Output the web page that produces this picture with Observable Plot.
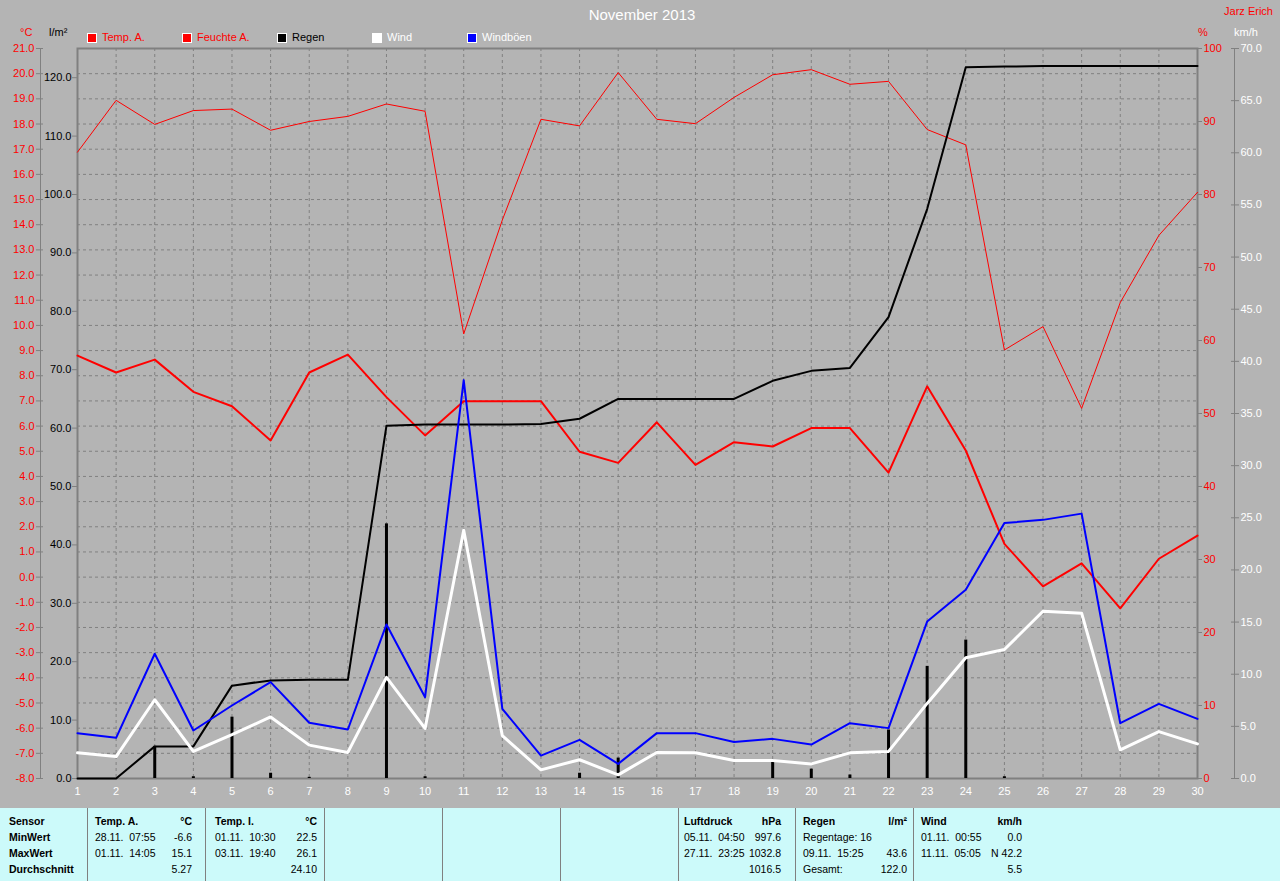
<!DOCTYPE html>
<html><head><meta charset="utf-8">
<script src="https://cdn.jsdelivr.net/npm/d3@7"></script>
<script src="https://cdn.jsdelivr.net/npm/@observablehq/plot@0.6"></script>
<style>
html,body{margin:0;padding:0;background:#b4b4b4;}
#wrap{position:relative;width:1280px;height:881px;overflow:hidden;background:#b4b4b4;font-family:"Liberation Sans",Arial,sans-serif;}
.t{position:absolute;font-size:11px;line-height:13px;white-space:pre;}
#table .t{font-size:10.5px;}
.sq{position:absolute;width:8px;height:8px;border:1px solid #fff;}
#table{position:absolute;left:0;top:808px;width:1280px;height:73px;background:#ccfafa;}
.div{position:absolute;top:0;width:1px;height:73px;background:#808080;}
</style></head><body><div id="wrap"></div>
<script>
// ---- data ----
const days = [1,2,3,4,5,6,7,8,9,10,11,12,13,14,15,16,17,18,19,20,21,22,23,24,25,26,27,28,29,30];
const tempA = [8.80,8.13,8.64,7.36,6.79,5.43,8.13,8.84,7.15,5.63,6.99,6.99,6.99,4.98,4.54,6.15,4.46,5.36,5.19,5.92,5.92,4.15,7.58,5.03,1.32,-0.37,0.55,-1.24,0.73,1.65];
const humidity = [85.8,92.9,89.6,91.5,91.7,88.8,90.0,90.7,92.4,91.4,60.9,76.5,90.3,89.4,96.7,90.3,89.7,93.3,96.4,97.1,95.1,95.5,88.9,86.8,58.7,61.9,50.7,65.2,74.4,80.3];
const rainDaily = [0,0,5.5,0.3,10.5,0.9,0.2,0,43.6,0.3,0,0,0,0.9,3.5,0,0,0,3.2,1.6,0.6,8.3,19.2,23.7,0.3,0,0,0,0,0];
const rainCum = [0,0,5.5,5.5,15.9,16.8,16.9,16.9,60.4,60.6,60.6,60.6,60.7,61.6,65.0,65.0,65.0,65.0,68.1,69.8,70.3,79.0,97.5,121.8,121.9,122.0,122.0,122.0,122.0,122.0];
const wind = [2.46,2.1,7.55,2.6,4.2,5.9,3.2,2.5,9.7,4.8,23.8,4.1,0.83,1.8,0.35,2.5,2.46,1.73,1.73,1.4,2.46,2.6,7.2,11.57,12.37,16.04,15.85,2.75,4.5,3.32];
const gust = [4.34,3.9,11.96,4.6,7.0,9.24,5.34,4.7,14.77,7.8,38.2,6.68,2.2,3.7,1.4,4.35,4.35,3.5,3.8,3.26,5.3,4.83,15.05,18.1,24.5,24.8,25.4,5.3,7.16,5.72];

const tempTicks = [-8,-7,-6,-5,-4,-3,-2,-1,0,1,2,3,4,5,6,7,8,9,10,11,12,13,14,15,16,17,18,19,20,21];
const rainTicks = [0,10,20,30,40,50,60,70,80,90,100,110,120];
const humTicks = [0,10,20,30,40,50,60,70,80,90,100];
const windTicks = [0,5,10,15,20,25,30,35,40,45,50,55,60,65,70];

const title = "November 2013";
const author = "Jarz Erich";
const legendNames = ["Temp. A.","Feuchte A.","Regen","Wind","Windböen"];
const legendFill = ["#ff0000","#ff0000","#000000","#ffffff","#0000ff"];
const legendText = ["#ff0000","#ff0000","#000000","#ffffff","#ffffff"];

const tableCols = [
  {left:["Sensor","MinWert","MaxWert","Durchschnitt"], right:["","","",""]},
  {left:["Temp. A.","28.11.  07:55","01.11.  14:05",""], right:["°C","-6.6","15.1","5.27"]},
  {left:["Temp. I.","01.11.  10:30","03.11.  19:40",""], right:["°C","22.5","26.1","24.10"]},
  {left:["","","",""], right:["","","",""]},
  {left:["","","",""], right:["","","",""]},
  {left:["","","",""], right:["","","",""]},
  {left:["Luftdruck","05.11.  04:50","27.11.  23:25",""], right:["hPa","997.6","1032.8","1016.5"]},
  {left:["Regen","Regentage: 16","09.11.  15:25","Gesamt:"], right:["l/m²","","43.6","122.0"]},
  {left:["Wind","01.11.  00:55","11.11.  05:05",""], right:["km/h","0.0","N 42.2","5.5"]}
];

// ---- layout ----
const wrap = document.getElementById("wrap");
const FONT = "'Liberation Sans',Arial,sans-serif";
function layer(y, marks) {
  const svg = Plot.plot({
    width: 1280, height: 805,
    marginTop: 48, marginRight: 83, marginBottom: 27, marginLeft: 77,
    x: {domain: [1, 30], axis: null},
    y: {...y, axis: null},
    marks,
    style: {background: "transparent", fontFamily: FONT, fontSize: "11px", overflow: "visible"}
  });
  svg.style.position = "absolute"; svg.style.left = "0px"; svg.style.top = "0px";
  wrap.appendChild(svg);
}
const grey = "#808080";
const f1 = d => d.toFixed(1);

// layer 1: grid, frame, temperature
layer({domain: [-8, 21]}, [
  Plot.gridY(tempTicks, {stroke: grey, strokeOpacity: 1, strokeDasharray: "3,3"}),
  Plot.gridX(days, {stroke: grey, strokeOpacity: 1, strokeDasharray: "3,3"}),
  Plot.frame({stroke: grey, strokeWidth: 2}),
  Plot.ruleX([1], {y1: -8, y2: 21, dx: -37, stroke: grey}),
  Plot.axisY(tempTicks, {anchor: "left", dx: -34, tickSize: 7, tickPadding: 2, stroke: grey, fill: "#ff0000", tickFormat: f1}),
  Plot.axisX(days, {anchor: "bottom", tickSize: 0, tickPadding: 9, fill: "#ffffff", tickFormat: d => String(d)}),
  Plot.line(days, {x: d => d, y: (d, i) => tempA[i], stroke: "#ff0000", strokeWidth: 2})
]);
// layer 2: humidity
layer({domain: [0, 100]}, [
  Plot.axisY(humTicks, {anchor: "right", tickSize: 4, tickPadding: 2, stroke: grey, fill: "#ff0000", tickFormat: d => String(d)}),
  Plot.line(days, {x: d => d, y: (d, i) => humidity[i], stroke: "#ff0000", strokeWidth: 1})
]);
// layer 3: rain
layer({domain: [0, 125]}, [
  Plot.axisY(rainTicks, {anchor: "left", tickSize: 5, tickPadding: 1, stroke: grey, fill: "#000000", tickFormat: f1}),
  Plot.ruleX(days, {x: d => d, y1: 0, y2: (d, i) => rainDaily[i], stroke: "#000000", strokeWidth: 3}),
  Plot.line(days, {x: d => d, y: (d, i) => rainCum[i], stroke: "#000000", strokeWidth: 2})
]);
// layer 4: wind
layer({domain: [0, 70]}, [
  Plot.ruleX([30], {y1: 0, y2: 70, dx: 37, stroke: grey}),
  Plot.axisY(windTicks, {anchor: "right", dx: 33, tickSize: 8, tickPadding: 2, stroke: grey, fill: "#ffffff", tickFormat: f1}),
  Plot.line(days, {x: d => d, y: (d, i) => wind[i], stroke: "#ffffff", strokeWidth: 3}),
  Plot.line(days, {x: d => d, y: (d, i) => gust[i], stroke: "#0000ff", strokeWidth: 2})
]);

// ---- text ----
function txt(s, x, y, color, opts = {}) {
  const d = document.createElement("div");
  d.className = "t";
  d.textContent = s;
  d.style.color = color;
  d.style.top = (y - 7) + "px";
  if (opts.size) d.style.fontSize = opts.size + "px";
  if (opts.bold) d.style.fontWeight = "bold";
  if (opts.align === "right") { d.style.right = (1280 - x) + "px"; }
  else if (opts.align === "center") { d.style.left = (x - 200) + "px"; d.style.width = "400px"; d.style.textAlign = "center"; }
  else d.style.left = x + "px";
  (opts.parent || wrap).appendChild(d);
  return d;
}
txt(title, 642, 15, "#ffffff", {size: 15, align: "center"});
txt(author, 1273, 12, "#ff0000", {align: "right"});
txt("°C", 20, 33, "#ff0000");
txt("l/m²", 49, 33, "#000000");
txt("%", 1198, 33, "#ff0000");
txt("km/h", 1234, 33, "#ffffff");
legendNames.forEach((n, i) => {
  const x = 87 + i * 95;
  const s = document.createElement("div");
  s.className = "sq"; s.style.left = x + "px"; s.style.top = "33px"; s.style.background = legendFill[i];
  wrap.appendChild(s);
  txt(n, x + 15, 38, legendText[i]);
});

// ---- table ----
const table = document.createElement("div");
table.id = "table";
wrap.appendChild(table);
const colStarts = [0, 87, 205, 324, 442, 560, 678, 795, 913];
const leftPad = [9, 8, 10, 8, 8, 8, 6, 8, 8];
const rightEdge = [0, 192, 317, 0, 0, 0, 781, 907, 1022];
const rowY = [14, 30, 46, 62];
colStarts.forEach((x, c) => {
  if (c > 0) {
    const dv = document.createElement("div");
    dv.className = "div"; dv.style.left = x + "px";
    table.appendChild(dv);
  }
  const col = tableCols[c];
  col.left.forEach((s, r) => {
    if (!s) return;
    txt(s, x + leftPad[c], rowY[r], "#000000", {bold: r === 0 || c === 0, parent: table});
  });
  col.right.forEach((s, r) => {
    if (!s) return;
    txt(s, rightEdge[c], rowY[r], "#000000", {bold: r === 0, align: "right", parent: table});
  });
});
</script></body></html>
